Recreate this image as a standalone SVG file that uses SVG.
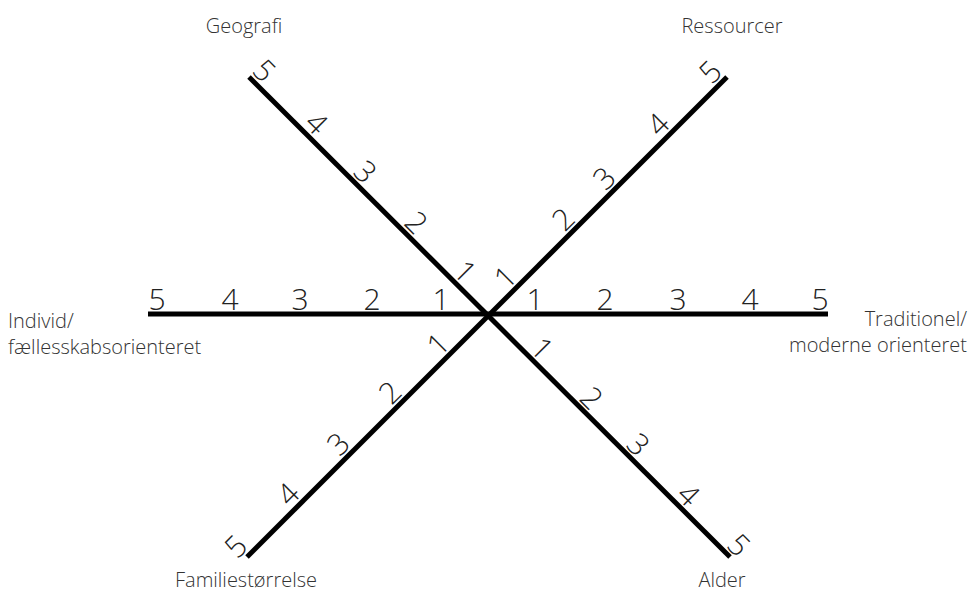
<svg xmlns="http://www.w3.org/2000/svg" width="970" height="594" viewBox="0 0 970 594">
<style>
.ax{stroke:#000;stroke-width:5;fill:none;stroke-linecap:butt}
.n{font-family:"Open Sans","Liberation Sans",sans-serif;font-weight:300;font-size:30px;fill:#222;text-anchor:middle}
.lb{font-family:"Open Sans","Liberation Sans",sans-serif;font-weight:300;font-size:20px;fill:#333}
</style>
<rect width="970" height="594" fill="#fff"/>
<g id="connectors">
<line class="ax" x1="148" y1="314" x2="828" y2="314"/>
<line class="ax" x1="249" y1="77" x2="730" y2="557"/>
<line class="ax" x1="727" y1="77" x2="247" y2="557"/>
</g>
<g id="scale-horizontal">
<text class="n" x="157" y="310">5</text>
<text class="n" x="230" y="310">4</text>
<text class="n" x="300" y="310">3</text>
<text class="n" x="372" y="310">2</text>
<text class="n" x="441" y="310">1</text>
<text class="n" x="535" y="310">1</text>
<text class="n" x="605" y="310">2</text>
<text class="n" x="678" y="310">3</text>
<text class="n" x="750" y="310">4</text>
<text class="n" x="820" y="310">5</text>
</g>
<g id="scale-geografi" transform="translate(488,315) rotate(45)">
<text class="n" x="-47" y="-4">1</text>
<text class="n" x="-116" y="-4">2</text>
<text class="n" x="-188" y="-4">3</text>
<text class="n" x="-257" y="-4">4</text>
<text class="n" x="-331" y="-4">5</text>
</g>
<g id="scale-alder" transform="translate(488,315) rotate(45)">
<text class="n" x="62" y="-4">1</text>
<text class="n" x="132" y="-4">2</text>
<text class="n" x="198" y="-4">3</text>
<text class="n" x="269" y="-4">4</text>
<text class="n" x="340" y="-4">5</text>
</g>
<g id="scale-ressourcer" transform="translate(488,315) rotate(-45)">
<text class="n" x="39" y="-4">1</text>
<text class="n" x="121" y="-4">2</text>
<text class="n" x="179" y="-4">3</text>
<text class="n" x="255" y="-4">4</text>
<text class="n" x="329" y="-4">5</text>
</g>
<g id="scale-familie" transform="translate(488,315) rotate(-45)">
<text class="n" x="-56" y="-4">1</text>
<text class="n" x="-124" y="-4">2</text>
<text class="n" x="-197" y="-4">3</text>
<text class="n" x="-268" y="-4">4</text>
<text class="n" x="-342" y="-4">5</text>
</g>
<g id="label-geografi"><text class="lb" x="244" y="33" text-anchor="middle">Geografi</text></g>
<g id="label-ressourcer"><text class="lb" x="732" y="33" text-anchor="middle">Ressourcer</text></g>
<g id="label-individ"><text class="lb" x="8" y="328">Individ/</text><text class="lb" x="8" y="354">fællesskabsorienteret</text></g>
<g id="label-traditionel"><text class="lb" x="967" y="326" text-anchor="end">Traditionel/</text><text class="lb" x="967" y="352" text-anchor="end">moderne orienteret</text></g>
<g id="label-familie"><text class="lb" x="246" y="587" text-anchor="middle">Familiestørrelse</text></g>
<g id="label-alder"><text class="lb" x="722" y="587" text-anchor="middle">Alder</text></g>
</svg>
